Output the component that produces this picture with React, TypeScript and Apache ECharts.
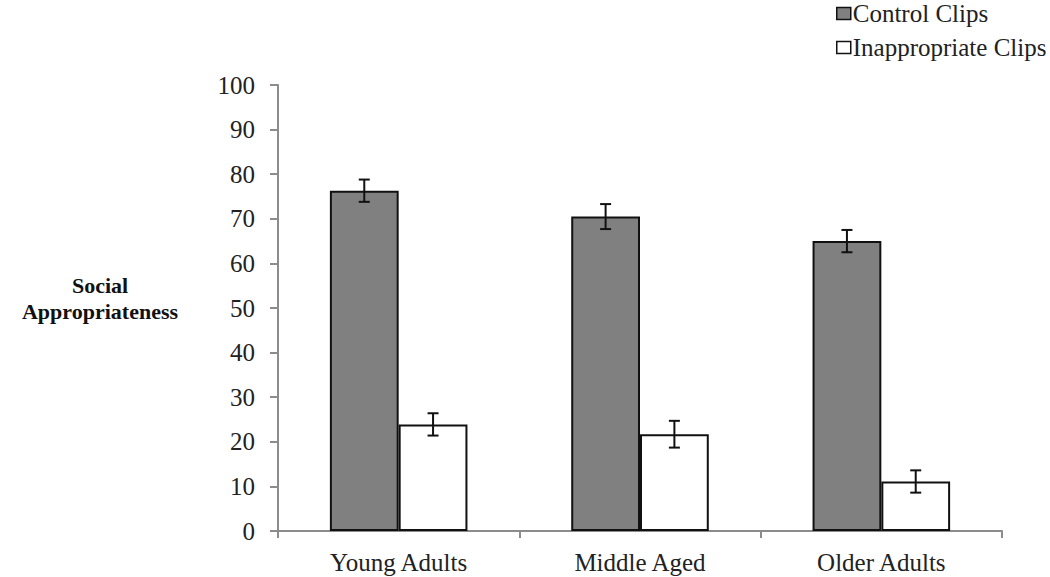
import React, { useEffect, useRef } from "react";
import * as echarts from "echarts";

const categories = ["Young Adults", "Middle Aged", "Older Adults"];
const controlValues = [76.3, 70.5, 65.0];
const controlErrors = [2.5, 2.8, 2.5];
const inappValues = [23.9, 21.7, 11.1];
const inappErrors = [2.5, 3.0, 2.5];
const yTicks = [0, 10, 20, 30, 40, 50, 60, 70, 80, 90, 100];

const FONT = "'Liberation Serif', 'DejaVu Serif', serif";
const CAT_GAP = 0.43;

export default function App() {
  const ref = useRef<HTMLDivElement>(null);
  useEffect(() => {
    if (!ref.current) return;
    const chart = echarts.init(ref.current, undefined, { renderer: "svg" });
    const halfBarFrac = (1 - CAT_GAP) / 2 / 2;
    const errSeries = (vals: number[], errs: number[], dir: number, name: string) => ({
      type: "custom",
      name: name + " err",
      z: 10,
      silent: true,
      data: vals.map((v, i) => [i, v, errs[i]]),
      renderItem: (params: any, api: any) => {
        const idx = api.value(0);
        const v = api.value(1);
        const e = api.value(2);
        const band = api.size([1, 0])[0];
        const top = api.coord([idx, v + e]);
        const bot = api.coord([idx, v - e]);
        const x = top[0] + dir * band * halfBarFrac;
        const cap = 5.5;
        const style = { stroke: "#111", lineWidth: 2 };
        return {
          type: "group",
          children: [
            { type: "line", shape: { x1: x, y1: top[1], x2: x, y2: bot[1] }, style },
            { type: "line", shape: { x1: x - cap, y1: top[1], x2: x + cap, y2: top[1] }, style },
            { type: "line", shape: { x1: x - cap, y1: bot[1], x2: x + cap, y2: bot[1] }, style },
          ],
        };
      },
    });
    chart.setOption({
      animation: false,
      backgroundColor: "#fff",
      textStyle: { fontFamily: FONT },
      grid: { left: 278, right: 48, top: 85, bottom: 46 },
      legend: {
        orient: "vertical",
        left: 831,
        top: -4,
        itemWidth: 14,
        itemHeight: 12,
        itemGap: 9,
        icon: "rect",
        textStyle: { fontFamily: FONT, fontSize: 25, color: "#222", padding: [0, 0, 0, -3] },
        data: [
          { name: "Control Clips", itemStyle: { color: "#808080", borderColor: "#111", borderWidth: 1.5 } },
          { name: "Inappropriate Clips", itemStyle: { color: "#fff", borderColor: "#111", borderWidth: 1.5 } },
        ],
      },
      xAxis: {
        type: "category",
        data: categories,
        axisLine: { lineStyle: { color: "#8c8c8c", width: 2 } },
        axisTick: { show: true, length: 7, lineStyle: { color: "#8c8c8c", width: 2 } },
        axisLabel: { fontFamily: FONT, fontSize: 25, color: "#222", margin: 19 },
      },
      yAxis: {
        type: "value",
        min: 0,
        max: 100,
        interval: 10,
        axisLine: { show: true, lineStyle: { color: "#8c8c8c", width: 2 } },
        axisTick: { show: true, length: 8, lineStyle: { color: "#8c8c8c", width: 2 } },
        splitLine: { show: false },
        axisLabel: {
          fontFamily: FONT,
          fontSize: 25,
          color: "#222",
          margin: 23,
          formatter: (v: number) => (yTicks.includes(v) ? String(v) : ""),
        },
      },
      graphic: [
        {
          type: "text",
          x: 100,
          y: 298,
          style: {
            text: "Social\nAppropriateness",
            fontFamily: FONT,
            fontSize: 22,
            fontWeight: "bold",
            fill: "#111",
            align: "center",
            verticalAlign: "middle",
            lineHeight: 26,
          },
        },
      ],
      series: [
        {
          type: "bar",
          name: "Control Clips",
          data: controlValues,
          barGap: "0%",
          barCategoryGap: CAT_GAP * 100 + "%",
          itemStyle: { color: "#808080", borderColor: "#111", borderWidth: 2 },
        },
        {
          type: "bar",
          name: "Inappropriate Clips",
          data: inappValues,
          barGap: "0%",
          barCategoryGap: CAT_GAP * 100 + "%",
          itemStyle: { color: "#fff", borderColor: "#111", borderWidth: 2 },
        },
        errSeries(controlValues, controlErrors, -1, "Control Clips"),
        errSeries(inappValues, inappErrors, 1, "Inappropriate Clips"),
      ],
    });
    return () => chart.dispose();
  }, []);
  return <div ref={ref} style={{ width: 1050, height: 577, position: "absolute", left: 0, top: 0 }} />;
}
